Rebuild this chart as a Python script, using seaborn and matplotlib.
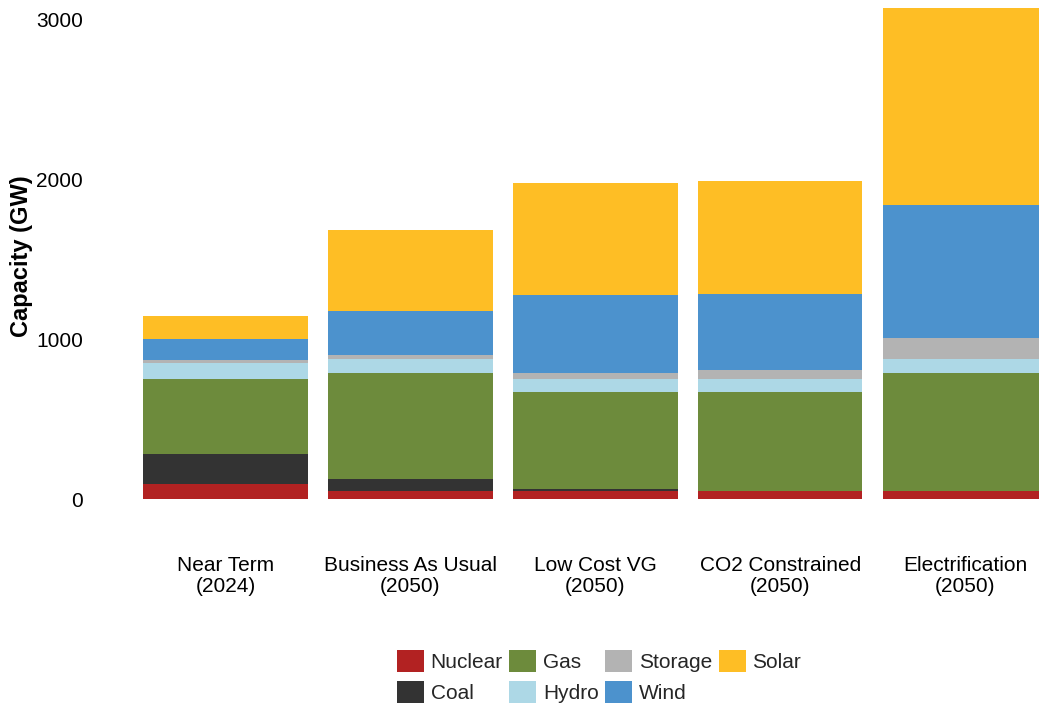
import matplotlib
matplotlib.use("Agg")
import matplotlib.pyplot as plt
from matplotlib.patches import Patch
import numpy as np
import pandas as pd
import seaborn as sns

scenarios = ["Near Term\n(2024)", "Business As Usual\n(2050)", "Low Cost VG\n(2050)",
             "CO2 Constrained\n(2050)", "Electrification\n(2050)"]
techs = ["Nuclear", "Coal", "Gas", "Hydro", "Storage", "Wind", "Solar"]
nuclear = [95, 50, 50, 50, 50]
coal = [186, 75, 12, 0, 0]
gas = [475, 663, 607, 619, 738]
hydro = [94, 87, 87, 87, 93]
storage = [19, 31, 32, 56, 131]
wind = [137, 275, 493, 475, 832]
solar = [144, 507, 700, 707, 1231]
colors = {"Nuclear": "#B22222", "Coal": "#333333", "Gas": "#6D8B3C", "Hydro": "#ADD8E6",
          "Storage": "#B3B3B3", "Wind": "#4C92CD", "Solar": "#FEBE25"}

values = {"Nuclear": nuclear, "Coal": coal, "Gas": gas, "Hydro": hydro,
          "Storage": storage, "Wind": wind, "Solar": solar}
df = pd.DataFrame(values, index=scenarios)
cum = df[techs].cumsum(axis=1)

sns.set_theme(style="white")
plt.rcParams["font.family"] = ["Liberation Sans", "DejaVu Sans"]

fig = plt.figure(figsize=(10.39, 7.08), dpi=100)
L = 95
ax = fig.add_axes([L / 1039, 1 - 499.3 / 708, 1 - L / 1039, 499.3 / 708])

for t in reversed(techs):
    d = pd.DataFrame({"scenario": scenarios, "value": cum[t].values})
    sns.barplot(data=d, x="scenario", y="value", color=colors[t], width=0.89,
                saturation=1, ax=ax, edgecolor="none", linewidth=0)

unit = (965 - 225.5) / 4
ax.set_xlim(-(225.5 - L) / unit, 4 + (1039 - 965) / unit)
ax.set_ylim(0, 3125)
ax.set_yticks([0, 1000, 2000, 3000])
ax.set_yticklabels(["0", "1000", "2000", "3000"])
for s in ax.spines.values():
    s.set_visible(False)
ax.tick_params(axis="y", length=0, pad=8.6, labelsize=15, colors="black")
ax.tick_params(axis="x", length=0, pad=41, labelsize=15, colors="black")
for lab in ax.get_xticklabels():
    lab.set_linespacing(1.1)
ax.set_xlabel("")
ax.set_ylabel("Capacity (GW)", fontsize=17, fontweight="bold", color="black")
ax.yaxis.set_label_coords((33 - L) / (1039 - L), 1 - 256 / 499.3)

handles = [Patch(facecolor=colors[t], edgecolor="none", label=t) for t in techs]
fig.legend(handles=handles, ncol=4, loc="center", frameon=False, fontsize=15,
           bbox_to_anchor=(599 / 1039, 1 - 676.5 / 708), handlelength=1.3, handleheight=1.3,
           handletextpad=0.33, columnspacing=0.3, labelspacing=0.4, borderpad=0)

fig.savefig("out.png", dpi=100)
